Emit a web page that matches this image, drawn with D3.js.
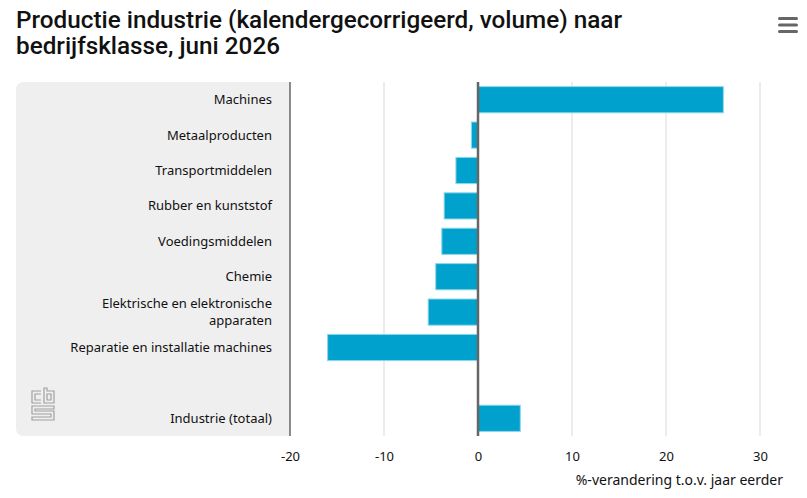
<!DOCTYPE html>
<html>
<head>
<meta charset="utf-8">
<script src="https://cdn.jsdelivr.net/npm/d3@7/dist/d3.min.js"></script>
<style>
  html, body { margin: 0; padding: 0; background: #ffffff; }
  svg { display: block; }
</style>
</head>
<body>
<svg id="chart" width="807" height="498"></svg>
<script>
// ---- data ----
const titleLines = ["Productie industrie (kalendergecorrigeerd, volume) naar", "bedrijfsklasse, juni 2026"];
const categories = [
  "Machines",
  "Metaalproducten",
  "Transportmiddelen",
  "Rubber en kunststof",
  "Voedingsmiddelen",
  "Chemie",
  "Elektrische en elektronische apparaten",
  "Reparatie en installatie machines",
  "",
  "Industrie (totaal)"
];
const values = [26.1, -0.7, -2.35, -3.6, -3.85, -4.5, -5.3, -16.0, null, 4.5];
const xTicks = [-20, -10, 0, 10, 20, 30];
const xAxisTitle = "%-verandering t.o.v. jaar eerder";

// ---- layout ----
const svg = d3.select("#chart");
const plotLeft = 290, plotRight = 760, plotTop = 82, plotBottom = 436;
const panelLeft = 16;
const labelFont = "'Noto Sans', sans-serif";

const x = d3.scaleLinear().domain([-20, 30]).range([plotLeft, plotRight]);
const y = d3.scaleBand().domain(categories).range([plotTop, plotBottom]).paddingInner(0.26).paddingOuter(0.13);

// title
const titleWidths = [606, 264];
svg.append("g").selectAll("text").data(titleLines).join("text")
  .attr("x", 16).attr("y", (d, i) => 28 + i * 25.5)
  .attr("font-family", "Roboto, sans-serif")
  .attr("font-size", 23).attr("font-weight", 500).attr("fill", "#111")
  .attr("textLength", (d, i) => titleWidths[i]).attr("lengthAdjust", "spacingAndGlyphs")
  .text(d => d);

// hamburger
svg.append("g").selectAll("rect").data([0, 1, 2]).join("rect")
  .attr("x", 778).attr("y", d => 17 + d * 6.5).attr("width", 20).attr("height", 3)
  .attr("rx", 1.5).attr("fill", "#666");

// grey category panel
const r = 8;
svg.append("path")
  .attr("d", `M${plotLeft},${plotTop} L${panelLeft + r},${plotTop} Q${panelLeft},${plotTop} ${panelLeft},${plotTop + r}
    L${panelLeft},${plotBottom - r} Q${panelLeft},${plotBottom} ${panelLeft + r},${plotBottom} L${plotLeft},${plotBottom} Z`)
  .attr("fill", "#efefef");

// gridlines
svg.append("g").selectAll("line").data(xTicks.filter(t => t !== -20 && t !== 0)).join("line")
  .attr("x1", d => x(d)).attr("x2", d => x(d))
  .attr("y1", plotTop).attr("y2", plotBottom)
  .attr("stroke", "#d9d9d9").attr("stroke-width", 1);

// bars
const data = categories.map((c, i) => ({ c, v: values[i] })).filter(d => d.c !== "" && d.v !== null);
svg.append("g").selectAll("rect").data(data).join("rect")
  .attr("x", d => x(Math.min(0, d.v)))
  .attr("width", d => Math.abs(x(d.v) - x(0)))
  .attr("y", d => y(d.c))
  .attr("height", y.bandwidth())
  .attr("fill", "#00a2cd")
  .attr("stroke", "#8fd6ea").attr("stroke-width", 1);

// left axis line and zero line
svg.append("line").attr("x1", x(-20)).attr("x2", x(-20)).attr("y1", plotTop).attr("y2", plotBottom)
  .attr("stroke", "#666").attr("stroke-width", 1.5);
svg.append("line").attr("x1", x(0)).attr("x2", x(0)).attr("y1", plotTop).attr("y2", plotBottom)
  .attr("stroke", "#666").attr("stroke-width", 2.5);

// category labels
function wrapLines(text) {
  if (text.length <= 34) return [text];
  const words = text.split(" ");
  const lines = [];
  let cur = "";
  words.forEach(w => {
    const t = cur ? cur + " " + w : w;
    if (t.length > 28 && cur) { lines.push(cur); cur = w; } else cur = t;
  });
  if (cur) lines.push(cur);
  return lines;
}
const labels = svg.append("g").selectAll("text").data(categories.filter(c => c !== "")).join("text")
  .attr("text-anchor", "end")
  .attr("font-family", labelFont).attr("font-size", 13).attr("fill", "#111");
labels.each(function(d) {
  const lines = wrapLines(d);
  const cy = y(d) + y.bandwidth() / 2;
  const lh = 17;
  const t = d3.select(this);
  lines.forEach((ln, i) => {
    t.append("tspan").attr("x", 272)
      .attr("y", cy + (i - (lines.length - 1) / 2) * lh + 4.5)
      .text(ln);
  });
});

// x axis
const xAxis = d3.axisBottom(x).tickValues(xTicks).tickSize(0).tickPadding(0).tickFormat(d => String(d));
const gx = svg.append("g").attr("transform", `translate(0,${plotBottom})`).call(xAxis);
gx.select(".domain").remove();
gx.selectAll("text")
  .attr("y", 25).attr("dy", 0)
  .attr("font-family", labelFont).attr("font-size", 13).attr("fill", "#111");

svg.append("text").attr("x", 783).attr("y", 485).attr("text-anchor", "end")
  .attr("font-family", labelFont).attr("font-size", 14).attr("fill", "#111")
  .text(xAxisTitle);

// CBS logo (decorative)
const logo = svg.append("g").attr("fill", "none").attr("stroke", "#a0a0a0").attr("stroke-width", 1.2);
logo.append("path").attr("d", "M41,391 L32,391 L32,403 L41,403 M41,394 L35,394 L35,400 L41,400");
logo.append("path").attr("d", "M44,388 L44,403 L54,403 L54,391 L47,391 L47,388 Z M47,394 L51,394 L51,400 L47,400 Z");
logo.append("path").attr("d", "M54,406 L32,406 L32,414 L51,414 L51,417 L32,417 L32,420 L54,420 L54,411 L35,411 L35,409 L54,409 Z");
</script>
</body>
</html>
